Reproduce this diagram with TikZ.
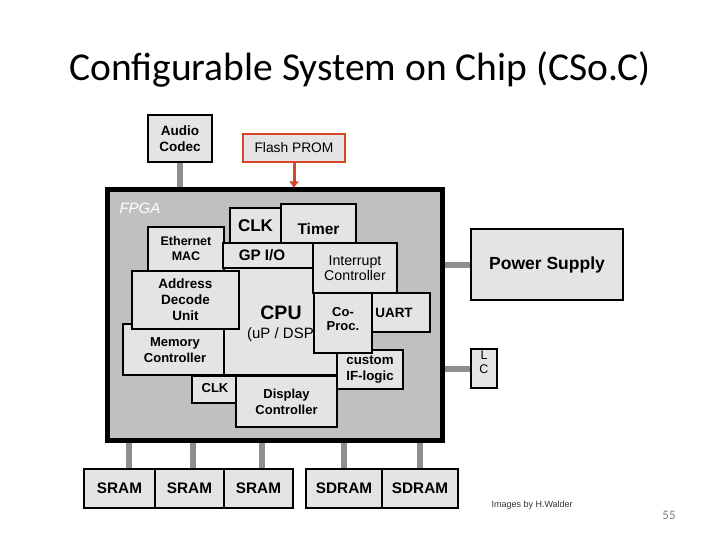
\documentclass[tikz,border=0pt]{standalone}
\usepackage{fontspec}
\setmainfont{Carlito}
\newfontfamily\arialf{Liberation Sans}
\usetikzlibrary{arrows.meta,calc}
\definecolor{boxfill}{HTML}{E4E4E4}
\definecolor{fpgafill}{HTML}{C0C0C0}
\definecolor{linkgray}{HTML}{8E8E8E}
\definecolor{promred}{HTML}{D9442A}
\definecolor{pagegray}{HTML}{7F7F7F}
\tikzset{
  blk/.style={draw=black, fill=boxfill, line width=1.4pt, inner sep=0pt, align=center,
    font=\arialf\bfseries\fontsize{13}{15.5}\selectfont},
  lbl/.style={inner sep=0pt, align=center, font=\arialf\bfseries\fontsize{13}{15.5}\selectfont},
  memblk/.style={blk, line width=2pt, minimum height=39pt,
    font=\arialf\bfseries\fontsize{15.3}{17}\selectfont},
  link/.style={draw=linkgray, line width=6pt},
}
\begin{document}
\begin{tikzpicture}[x=1pt,y=-1pt]
\useasboundingbox (0,0) rectangle (720,540);
% title
\node[font=\fontsize{39.5}{44}\selectfont] (title) at (360,69) {Configurable System on Chip (CSo.C)};
% outer parts
\node[blk, line width=2.5pt, minimum width=64pt, minimum height=47pt,
  font=\arialf\bfseries\fontsize{13.5}{15.5}\selectfont] (audio) at (180,138.5) {Audio\\Codec};
\node[blk, draw=promred, line width=2.2pt, minimum width=102pt, minimum height=28pt,
  font=\arialf\fontsize{13.8}{15}\selectfont] (flash) at (294,148) {Flash PROM};
\node[draw=black, fill=fpgafill, line width=5pt, minimum width=335pt, minimum height=250pt, inner sep=0pt] (fpga) at (274.5,315) {};
\node[anchor=west, text=white, font=\arialf\itshape\fontsize{15}{17}\selectfont] (fpgalbl) at (116,208) {FPGA};
% inner blocks
\node[blk, minimum width=51pt, minimum height=35pt, font=\arialf\bfseries\fontsize{17}{19}\selectfont] (clka) at (255.5,225.5) {CLK};
\node[blk, minimum width=75pt, minimum height=39pt] (timer) at (318.5,223.5) {};
\node[lbl, font=\arialf\bfseries\fontsize{15.5}{17}\selectfont] (timertxt) at (318.5,229) {Timer};
\node[blk, minimum width=76pt, minimum height=44pt, font=\arialf\bfseries\fontsize{12.5}{15}\selectfont] (ether) at (186,249) {Ethernet\\MAC};
\node[blk, minimum width=90pt, minimum height=25pt] (gpio) at (268,255.5) {};
\node[lbl, font=\arialf\bfseries\fontsize{15.2}{17}\selectfont] (gpiotxt) at (262,255) {GP I/O};
\node[blk, minimum width=113pt, minimum height=107pt] (cpu) at (280.5,321.5) {};
\node[font=\arialf\bfseries\fontsize{19.5}{21}\selectfont] (cputxt) at (281,313) {CPU};
\node[font=\arialf\fontsize{15}{17}\selectfont] (cpusub) at (283,335) {(uP / DSP)};
\node[blk, minimum width=84pt, minimum height=50pt, font=\arialf\fontsize{14.2}{15.5}\selectfont] (intr) at (355,268) {Interrupt\\Controller};
\node[blk, minimum width=58pt, minimum height=39pt] (uart) at (401,312.5) {};
\node[lbl, font=\arialf\bfseries\fontsize{13.5}{15}\selectfont] (uarttxt) at (394,312.5) {UART};
\node[blk, minimum width=66pt, minimum height=39pt, font=\arialf\bfseries\fontsize{13.3}{15.5}\selectfont] (custom) at (370,369.5) {custom\\IF-logic};
\node[blk, minimum width=58pt, minimum height=60pt] (coproc) at (343,323) {};
\node[lbl, font=\arialf\bfseries\fontsize{13}{14}\selectfont] (coproctxt) at (343,319) {Co-\\Proc.};
\node[blk, minimum width=101pt, minimum height=51pt] (memctl) at (173.5,349.5) {};
\node[lbl, font=\arialf\bfseries\fontsize{13}{16}\selectfont] (memtxt) at (175,350) {Memory\\Controller};
\node[blk, minimum width=107pt, minimum height=58pt, font=\arialf\bfseries\fontsize{13.5}{16}\selectfont] (addr) at (185.5,300) {Address\\Decode\\Unit};
\node[blk, minimum width=44pt, minimum height=27pt] (clkb) at (214,389.5) {};
\node[lbl] (clkbtxt) at (215,388) {CLK};
\node[blk, minimum width=101pt, minimum height=51pt, font=\arialf\bfseries\fontsize{13}{16}\selectfont] (disp) at (286.5,401.5) {Display\\Controller};
% right side
\node[blk, line width=2pt, minimum width=152pt, minimum height=71pt, font=\arialf\bfseries\fontsize{17.5}{19}\selectfont] (power) at (547,264.5) {Power Supply};
\node[blk, line width=2.2pt, minimum width=26pt, minimum height=39pt] (lc) at (484,368.5) {};
\node[lbl, font=\arialf\fontsize{12.5}{13}\selectfont] (ltxt) at (484,355) {L};
\node[lbl, font=\arialf\fontsize{12.5}{13}\selectfont] (ctxt) at (484,369) {C};
% memories
\node[memblk, minimum width=71pt] (sram1) at (119.5,488.5) {SRAM};
\node[memblk, minimum width=69pt] (sram2) at (189.5,488.5) {SRAM};
\node[memblk, minimum width=69pt] (sram3) at (258.5,488.5) {SRAM};
\node[memblk, minimum width=76pt] (sdram1) at (344,488.5) {SDRAM};
\node[memblk, minimum width=76pt] (sdram2) at (420,488.5) {SDRAM};
% connectors
\draw[link] (audio.south) -- (audio.south |- fpga.north);
\draw[link] (fpga.east |- power.west) -- (power.west);
\draw[link] (fpga.east |- lc.west) -- (lc.west);
\draw[link] ([xshift=9.5pt]sram1.north) -- ([xshift=9.5pt]sram1.north |- fpga.south);
\draw[link] ([xshift=3.5pt]sram2.north) -- ([xshift=3.5pt]sram2.north |- fpga.south);
\draw[link] ([xshift=3.5pt]sram3.north) -- ([xshift=3.5pt]sram3.north |- fpga.south);
\draw[link] (sdram1.north) -- (sdram1.north |- fpga.south);
\draw[link] (sdram2.north) -- (sdram2.north |- fpga.south);
\draw[draw=promred, line width=3pt, -{Triangle[width=9pt,length=6pt]}] (flash.south) -- (flash.south |- fpga.north);
% footer
\node[anchor=west, text=black!80, font=\arialf\fontsize{9}{10}\selectfont] (credit) at (488,505) {Images by H.Walder};
\node[text=pagegray, font=\fontsize{13}{15}\selectfont] (page) at (669,515) {55};
\end{tikzpicture}
\end{document}
